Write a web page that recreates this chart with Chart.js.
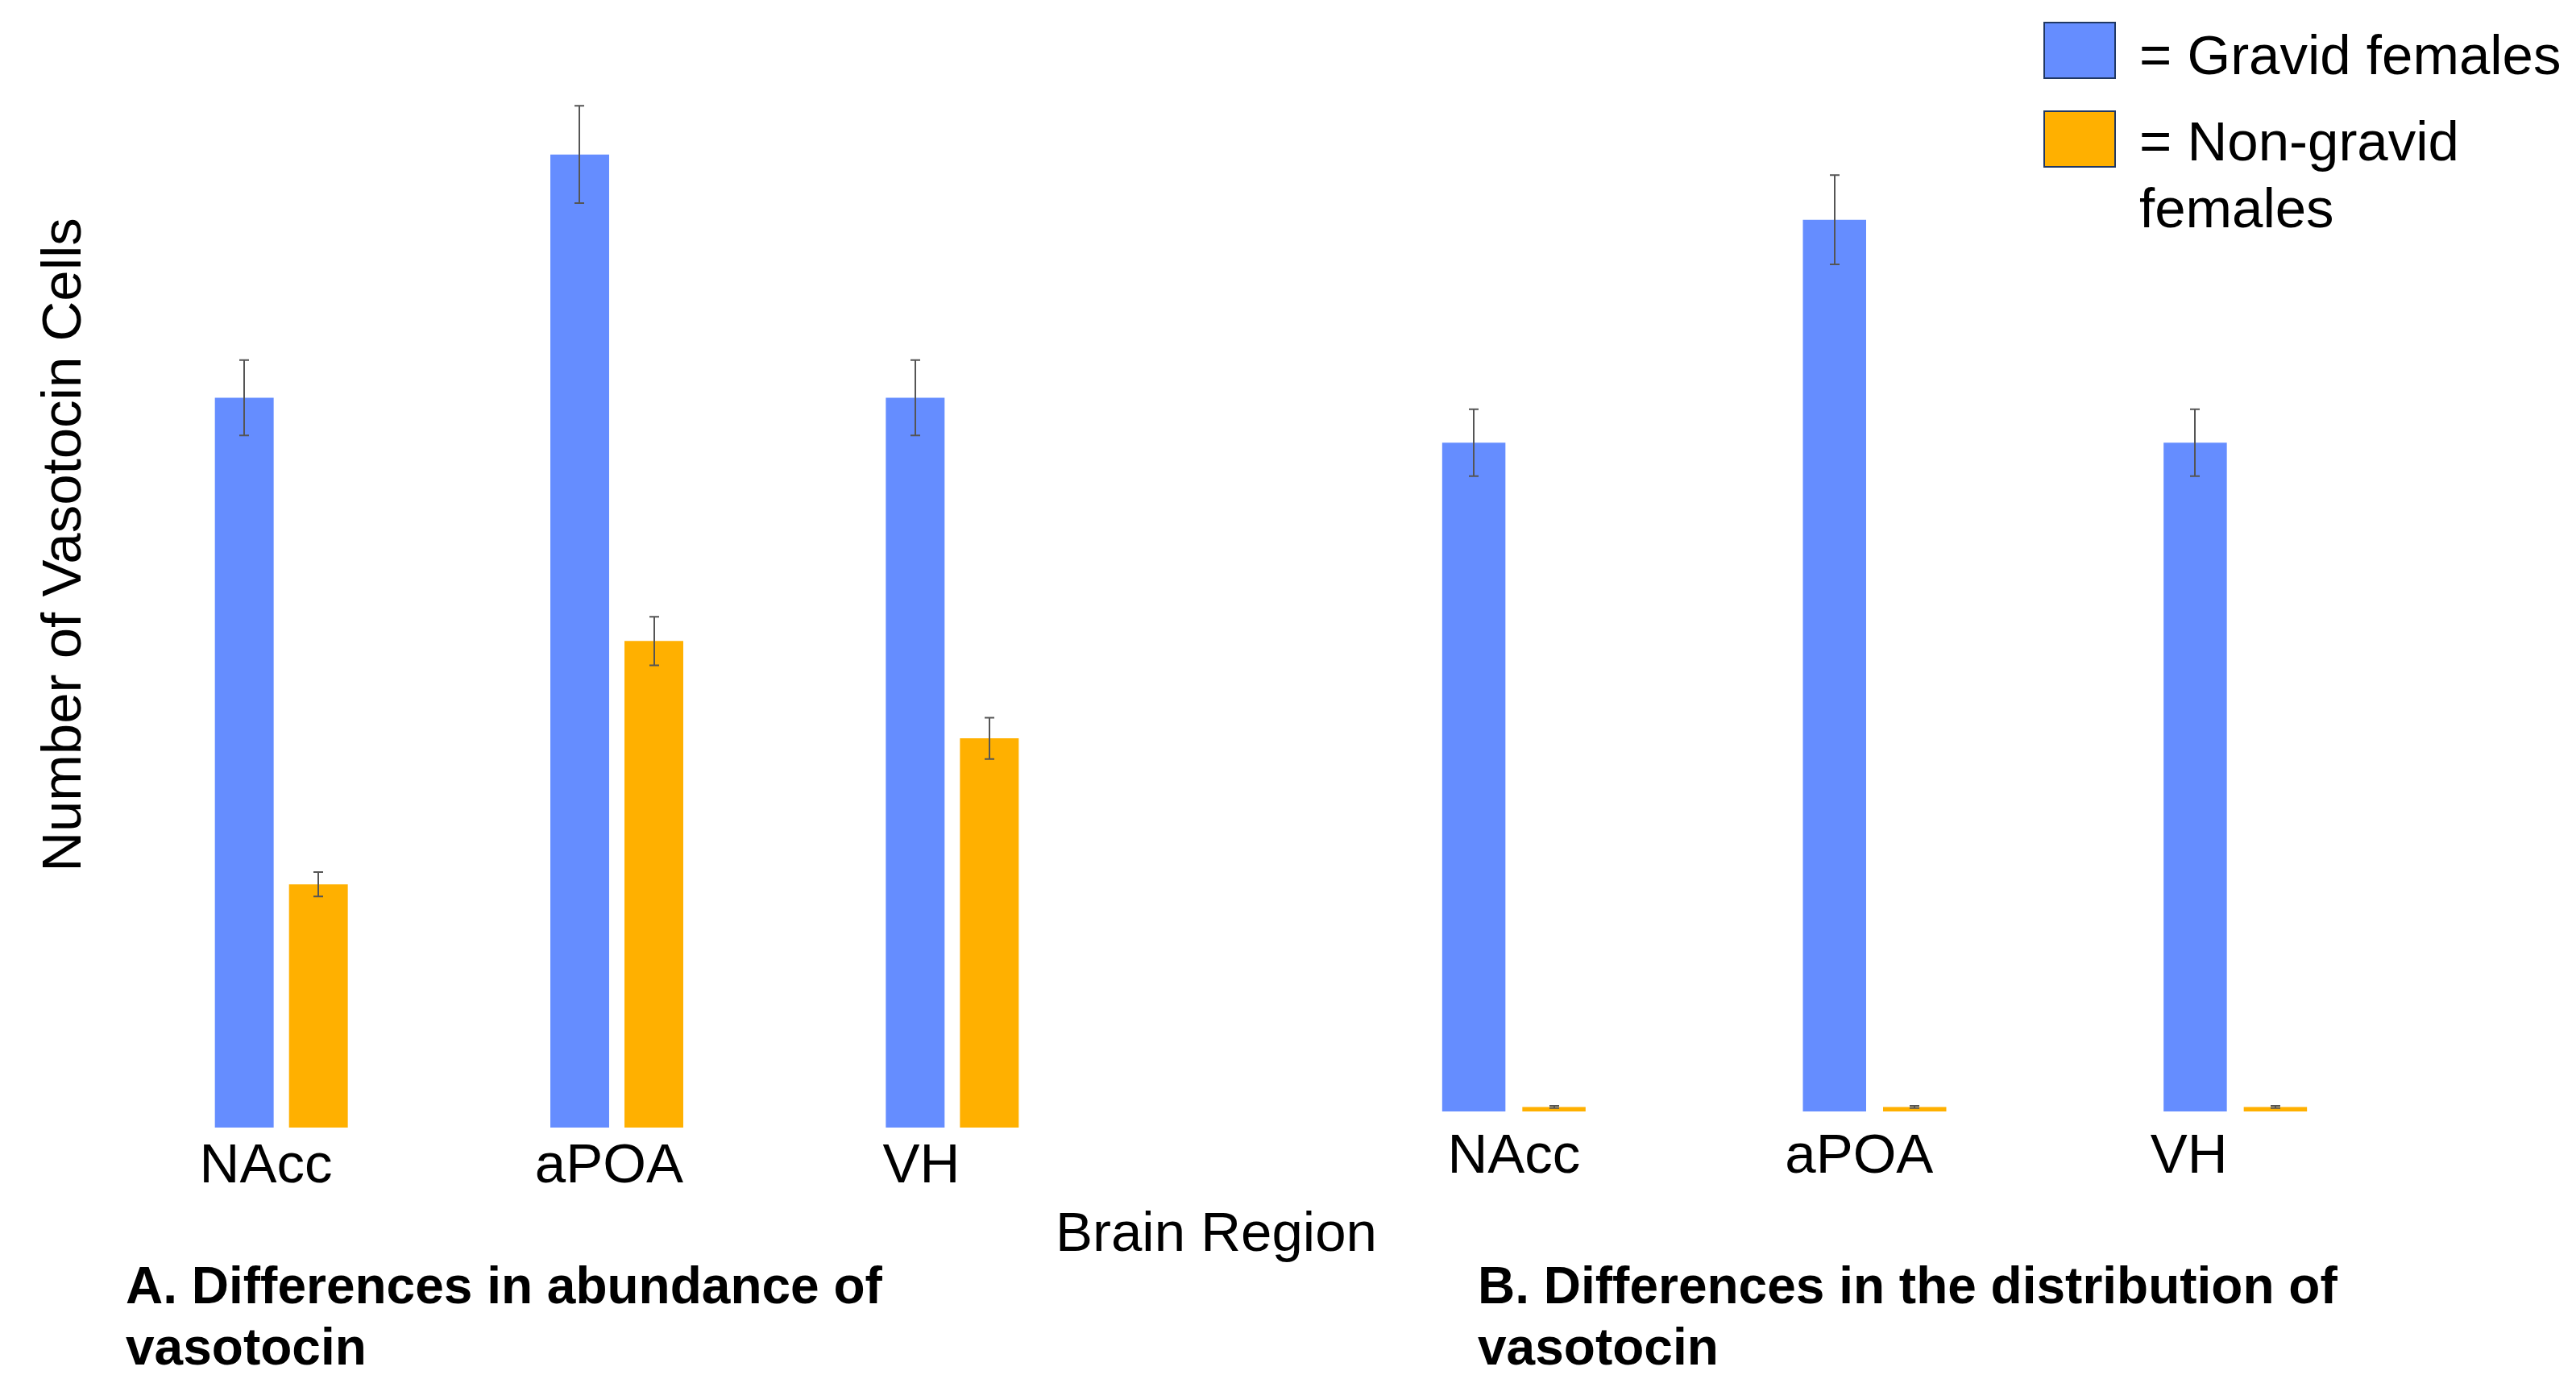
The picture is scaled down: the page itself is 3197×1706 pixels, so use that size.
<!DOCTYPE html>
<html>
<head>
<meta charset="utf-8">
<title>Vasotocin cells</title>
<script src="https://cdn.jsdelivr.net/npm/chart.js@4/dist/chart.umd.min.js"></script>
<style>
  body { margin: 0; background: #fff; width: 3197px; height: 1706px; position: relative; overflow: hidden;
         font-family: "Liberation Sans", Arial, sans-serif; color: #000; }
  .txt { position: absolute; font-size: 69px; line-height: 83px; white-space: nowrap; }
  .ttl { position: absolute; font-size: 64px; line-height: 76px; font-weight: bold; white-space: nowrap; }
  .box { position: absolute; width: 86px; height: 67px; border: 2px solid #203864; }
  canvas { position: absolute; }
</style>
</head>
<body>

<canvas id="chartA" width="1249" height="1448" style="left:141px; top:71px;"></canvas>
<canvas id="chartB" width="1343" height="1337" style="left:1655px; top:162px;"></canvas>

<div class="txt" style="left:76px; top:676px; transform: translate(-50%,-50%) rotate(-90deg);">Number of Vasotocin Cells</div>
<div class="txt" style="left:1310px; top:1487px;">Brain Region</div>

<div class="ttl" style="left:156px; top:1557px;">A. Differences in abundance of<br>vasotocin</div>
<div class="ttl" style="left:1834px; top:1557px;">B. Differences in the distribution of<br>vasotocin</div>

<div class="box" style="left:2536px; top:27px; background:#658DFF;"></div>
<div class="box" style="left:2536px; top:137px; background:#FFB000;"></div>
<div class="txt" style="left:2655px; top:27px;">= Gravid females</div>
<div class="txt" style="left:2655px; top:134px;">= Non-gravid<br>females</div>

<script>
// brain regions on the x axis
var regions = ["NAcc", "aPOA", "VH"];

// A. abundance
var gravidA = [30, 40, 30];
var gravidAErr = [1.55, 2, 1.55];
var nonGravidA = [10, 20, 16];
var nonGravidAErr = [0.5, 1, 0.85];

// B. distribution
var gravidB = [30, 40, 30];
var gravidBErr = [1.5, 2, 1.5];
var nonGravidB = [0.2, 0.2, 0.2];
var nonGravidBErr = [0.05, 0.05, 0.05];

// the labels in the original sit a bit left of the groups, nudge with trailing spaces
var labelPadA = [2, 1, 4];
var labelPadB = [0, 2, 6];

var blue = "#658DFF";
var orange = "#FFB000";

// draws the error bars on top of each bar
var errorBars = {
    id: "errorBars",
    afterDatasetsDraw: function(chart) {
        var ctx = chart.ctx;
        var y = chart.scales.y;
        ctx.save();
        ctx.strokeStyle = "#555555";
        ctx.lineWidth = 2;
        chart.data.datasets.forEach(function(ds, i) {
            var meta = chart.getDatasetMeta(i);
            meta.data.forEach(function(bar, j) {
                var v = ds.data[j];
                var e = ds.errors[j];
                var top = y.getPixelForValue(v + e);
                var bot = y.getPixelForValue(v - e);
                var x = Math.round(bar.x);
                ctx.beginPath();
                ctx.moveTo(x, top);
                ctx.lineTo(x, bot);
                ctx.moveTo(x - 6, top);
                ctx.lineTo(x + 6, top);
                ctx.moveTo(x - 6, bot);
                ctx.lineTo(x + 6, bot);
                ctx.stroke();
            });
        });
        ctx.restore();
    }
};

function makeChart(id, gData, gErr, nData, nErr, catPct, barPct, pad, labelPad) {
    return new Chart(document.getElementById(id), {
        type: "bar",
        data: {
            labels: regions,
            datasets: [
                {
                    label: "Gravid females",
                    data: gData,
                    errors: gErr,
                    backgroundColor: blue,
                    categoryPercentage: catPct,
                    barPercentage: barPct
                },
                {
                    label: "Non-gravid females",
                    data: nData,
                    errors: nErr,
                    backgroundColor: orange,
                    categoryPercentage: catPct,
                    barPercentage: barPct
                }
            ]
        },
        options: {
            responsive: false,
            animation: false,
            layout: { padding: 0 },
            plugins: {
                legend: { display: false },
                tooltip: { enabled: false }
            },
            scales: {
                x: {
                    grid: { display: false, drawTicks: false },
                    border: { display: false },
                    ticks: {
                        color: "#000",
                        padding: pad,
                        font: { family: "Liberation Sans", size: 69 },
                        callback: function(val, i) {
                            return regions[i] + " ".repeat(labelPad[i]);
                        }
                    },
                    afterFit: function(s) { s.height = 120; }
                },
                y: {
                    display: false,
                    min: 0,
                    max: 44
                }
            }
        },
        plugins: [errorBars]
    });
}

makeChart("chartA", gravidA, gravidAErr, nonGravidA, nonGravidAErr, 0.442, 0.793, 8, labelPadA);
makeChart("chartB", gravidB, gravidBErr, nonGravidB, nonGravidBErr, 0.4445, 0.789, 16, labelPadB);
</script>
</body>
</html>
